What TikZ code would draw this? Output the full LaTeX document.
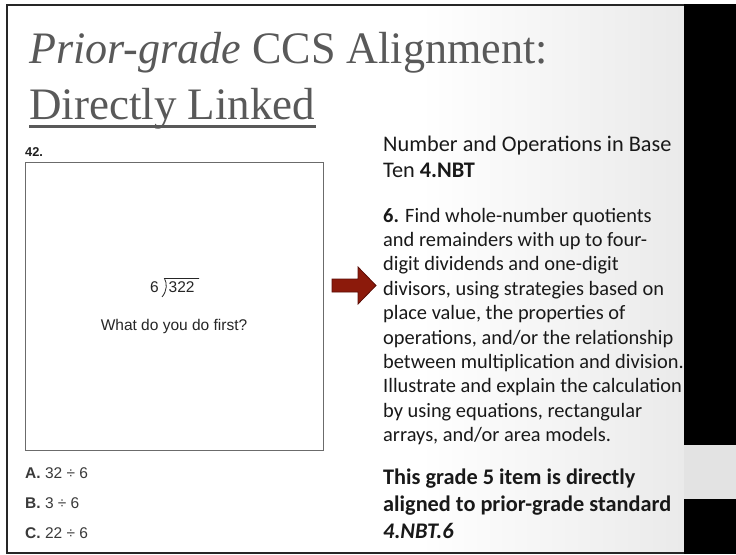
\documentclass[tikz,border=0pt]{standalone}
\usepackage{fontspec}
\setmainfont{Carlito}
\newfontfamily\titlefont{Liberation Serif}
\newfontfamily\arialfont{Liberation Sans}
\definecolor{titlegray}{HTML}{595959}
\definecolor{framecol}{HTML}{262626}
\definecolor{boxgray}{HTML}{6B6B6B}
\definecolor{arrowred}{HTML}{8C1A0B}
\definecolor{arrowdark}{HTML}{5C0E08}
\definecolor{bandgray}{HTML}{E3E3E3}
\definecolor{bggray}{HTML}{EAEAEA}
\definecolor{opttext}{HTML}{3A3A3A}
\begin{document}
\begin{tikzpicture}[x=1bp,y=-1bp,
  titletext/.style={anchor=base west, inner sep=0pt, text=titlegray,
    font=\titlefont\fontsize{45bp}{54bp}\selectfont},
  itemtext/.style={inner sep=0pt, text=opttext,
    font=\arialfont\fontsize{15.5bp}{18bp}\selectfont},
  headtext/.style={anchor=base west, inner sep=0pt, align=left, text=black!90,
    font=\fontsize{22.3bp}{26.6bp}\selectfont},
  bodytext/.style={anchor=base west, inner sep=0pt, align=left, text=black!90,
    font=\fontsize{20.4bp}{24.4bp}\selectfont},
  boldtext/.style={anchor=base west, inner sep=0pt, align=left, text=black!90,
    font=\bfseries\fontsize{22.3bp}{27bp}\selectfont}]
\useasboundingbox (0,0) rectangle (736,555);
% background
\fill[white] (0,0) rectangle (736,555);
\shade[left color=white, right color=bggray] (420,5) rectangle (684,553);
% slide frame
\draw[framecol, line width=1.5bp] (690,5) -- (7,5) -- (7,553) -- (690,553);
% title
\node[titletext] (t1) at (29,64) {\scalebox{0.98}[1]{\itshape Prior-grade\upshape{} CCS Alignment:}};
\node[titletext] (t2) at (29,120) {Directly Linked};
\draw[titlegray, line width=3bp] ([yshift=-7bp]t2.base west) -- ([yshift=-7bp]t2.base east);
% item
\node[anchor=base west, inner sep=0pt, text=black!88,
  font=\arialfont\bfseries\fontsize{12.8bp}{15bp}\selectfont] (num) at (25,157) {42.};
\node[draw=boxgray, line width=1bp, minimum width=298bp, minimum height=288bp,
  anchor=north west, inner sep=0pt] (box) at (25,162) {};
\node[itemtext, anchor=base west, text=black!85] (six) at (150,293) {6};
\node[itemtext, anchor=base west, text=black!85] (dvd) at (168.5,293) {322};
\coordinate (brtop) at (164.5,278.5);
\draw[black!85, line width=0.8bp] (199,278.5) -- (brtop)
  .. controls (167.2,283) and (167.2,291) .. (162,297);
\node[itemtext, anchor=base, text=black!85] (ask) at (174,330) {What do you do first?};
\node[itemtext, anchor=base west] (oa) at (25,478) {\textbf{A.} 32 ÷ 6};
\node[itemtext, anchor=base west] (ob) at (25,508) {\textbf{B.} 3 ÷ 6};
\node[itemtext, anchor=base west] (oc) at (25,538) {\textbf{C.} 22 ÷ 6};
% arrow
\draw[fill=arrowred, draw=arrowdark, line width=0.8bp, line join=miter]
  (332,279) -- (358,279) -- (358,267) -- (376,285.5) -- (358,304) -- (358,292) -- (332,292) -- cycle;
% standard text (base anchor = last line of each block)
\node[headtext] (head) at (383,178) {Number and Operations in Base\\Ten \textbf{4.NBT}};
\node[bodytext] (std) at (383,441.6) {\textbf{6.} Find whole-number quotients\\
and remainders with up to four-\\
digit dividends and one-digit\\
divisors, using strategies based on\\
place value, the properties of\\
operations, and/or the relationship\\
between multiplication and division.\\
Illustrate and explain the calculation\\
by using equations, rectangular\\
arrays, and/or area models.};
\node[boldtext] (note) at (383,538) {This grade 5 item is directly\\
aligned to prior-grade standard\\
\textit{4.NBT.6}};
% right-hand cover
\fill[black] (684,4.25) rectangle (736,445);
\fill[bandgray] (684,445) rectangle (736,499);
\fill[black] (684,499) rectangle (736,554);
\end{tikzpicture}
\end{document}
